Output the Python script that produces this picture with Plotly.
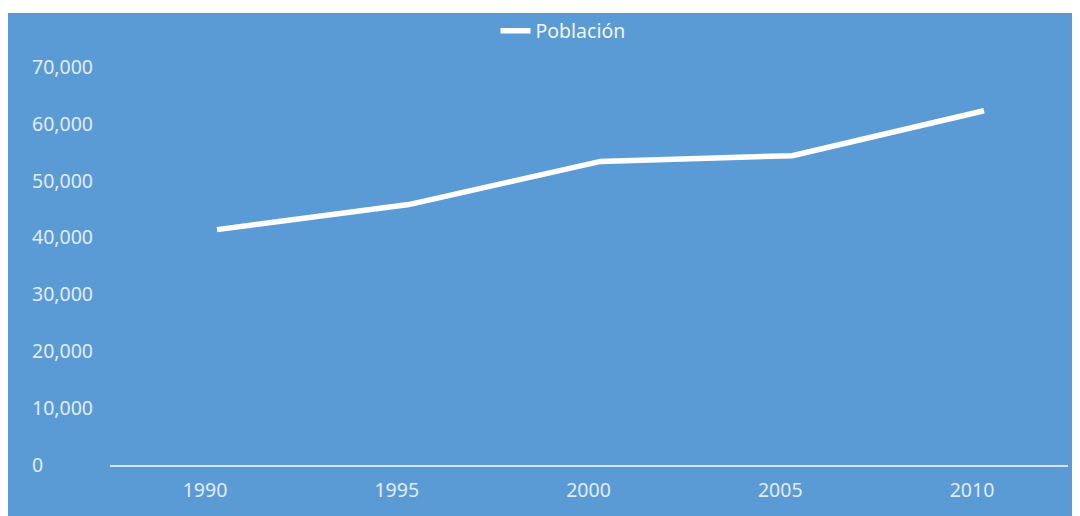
import plotly.graph_objects as go

years = ["1990", "1995", "2000", "2005", "2010"]
poblacion = [41400, 45800, 53400, 54400, 62300]
y_ticks = [0, 10000, 20000, 30000, 40000, 50000, 60000, 70000]
y_tick_labels = ["0", "10,000", "20,000", "30,000", "40,000", "50,000", "60,000", "70,000"]

BLUE = "#5B9BD5"
TXT = "#E2ECF7"
W, H = 1072, 508
L, R, T, B = 20, 12, 59, 51
pw, ph = W - L - R, H - T - B
plot_left = 102

fig = go.Figure()
fig.add_trace(go.Scatter(
    x=years, y=poblacion, mode="lines", name="Población",
    line=dict(color="white", width=5.5),
))

fig.update_layout(
    width=W, height=H,
    margin=dict(l=L, r=R, t=T, b=B, pad=0, autoexpand=False),
    paper_bgcolor="white",
    plot_bgcolor=BLUE,
    font=dict(family="Noto Sans, Open Sans, sans-serif", size=19.5, color=TXT),
    showlegend=True,
    legend=dict(orientation="h", x=(555 - L) / pw, xanchor="center",
                y=(T + ph - 23) / ph, yanchor="middle",
                font=dict(size=19.5, color="#F2F6FB"), bgcolor="rgba(0,0,0,0)"),
    xaxis=dict(type="category", range=[-0.558, 4.438], showgrid=False,
               domain=[(plot_left - L) / pw, 1],
               showline=True, linecolor="#D6E4F3", linewidth=2,
               ticks="", ticklabelshift=-12, ticklabelstandoff=7,
               tickfont=dict(size=19.5, color=TXT), zeroline=False),
    yaxis=dict(range=[0, 70000], tickvals=y_ticks, ticktext=y_tick_labels,
               showgrid=False, showline=False, zeroline=False, ticks="",
               anchor="free", position=0,
               ticklabelposition="inside", ticklabeloverflow="allow",
               tickfont=dict(size=19.5, color=TXT)),
    shapes=[dict(type="rect", xref="paper", yref="paper", layer="below",
                 x0=(0 - L) / pw, x1=(W - L) / pw,
                 y0=(T + ph - H) / ph, y1=(T + ph - 5) / ph,
                 fillcolor=BLUE, line=dict(width=0))],
)
fig.write_html("out.html")
